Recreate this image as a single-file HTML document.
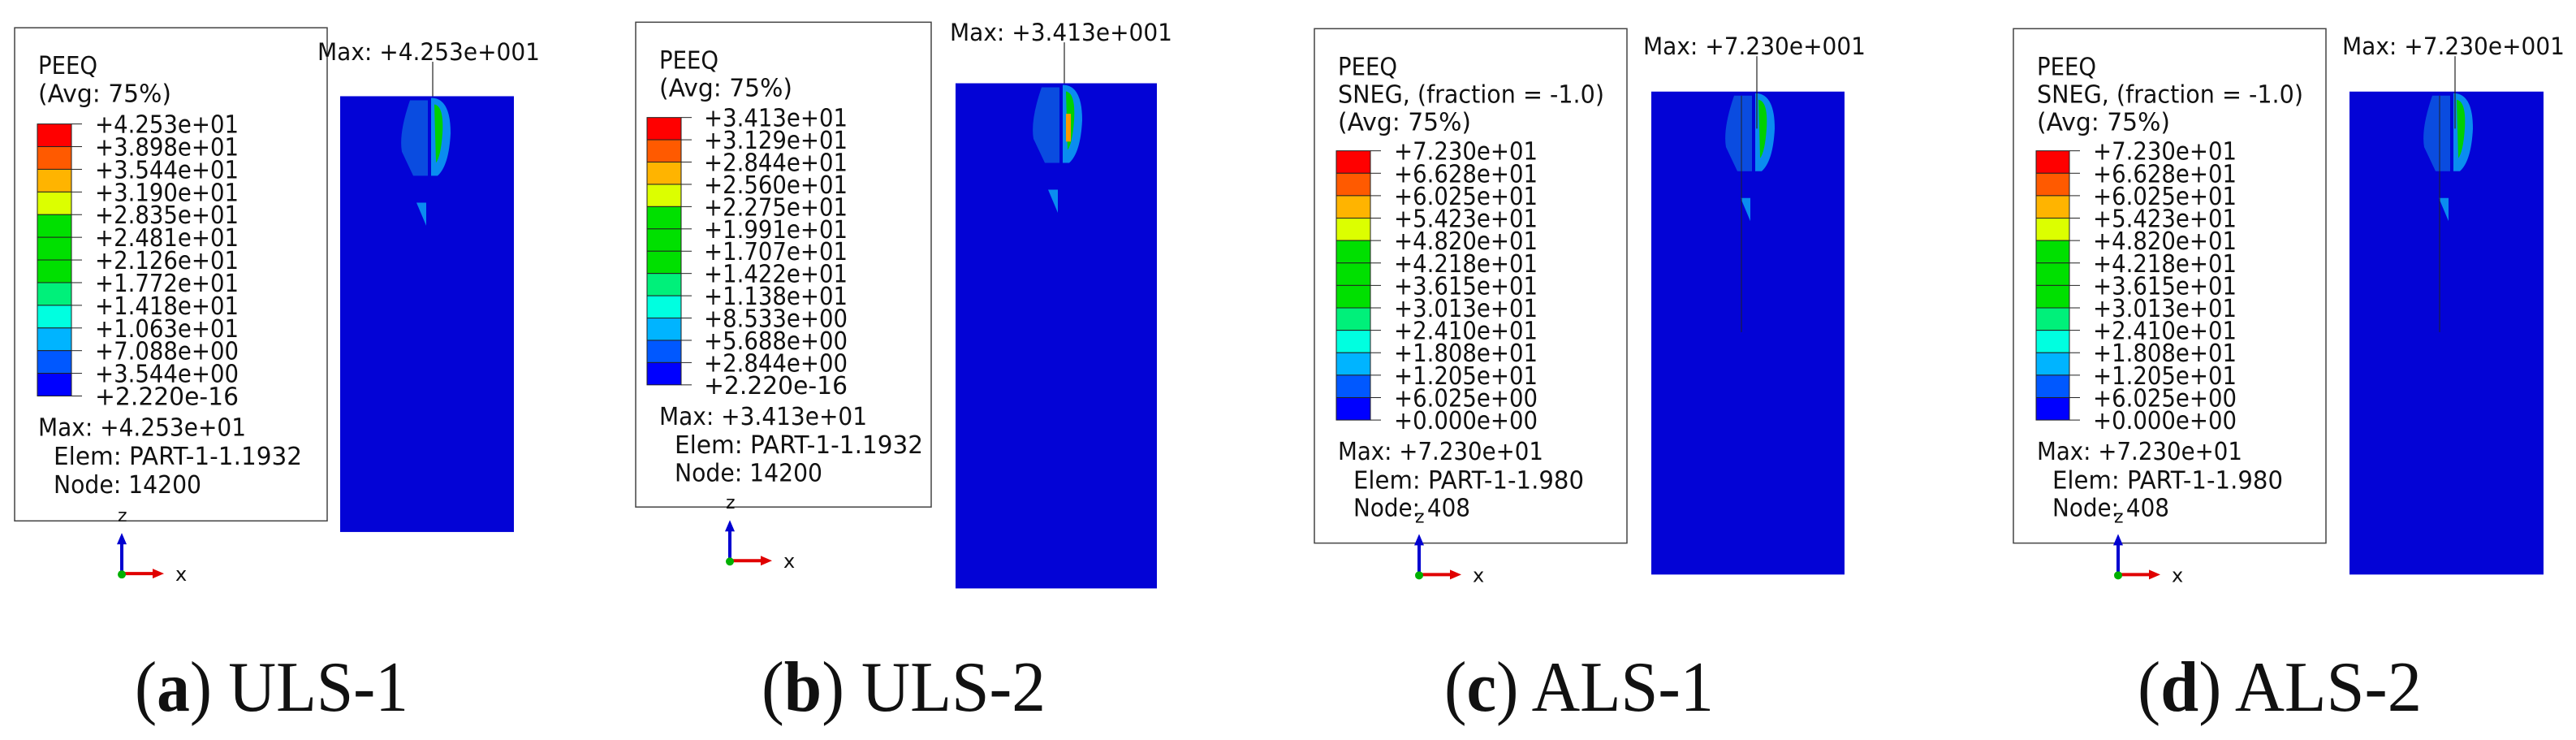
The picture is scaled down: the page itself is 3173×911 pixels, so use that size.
<!DOCTYPE html>
<html><head><meta charset="utf-8"><style>
html,body{margin:0;padding:0;background:#fff;}
svg{display:block}
.m{font-family:"DejaVu Sans","Liberation Sans",sans-serif;fill:#111;}
.cap{font-family:"Liberation Serif",serif;font-size:88px;fill:#111;}
</style></head><body>
<svg id="fig" width="3173" height="911" viewBox="0 0 3173 911" xmlns="http://www.w3.org/2000/svg"></svg>
<script>
const bandColors = ["#ff0000","#ff5a00","#ffb400","#dcff00","#00e000","#00e000","#00e000","#00f07a","#00ffe0","#00b4ff","#0058ff","#0000ff"];
const labelsA = ["+4.253e+01","+3.898e+01","+3.544e+01","+3.190e+01","+2.835e+01","+2.481e+01","+2.126e+01","+1.772e+01","+1.418e+01","+1.063e+01","+7.088e+00","+3.544e+00","+2.220e-16"];
const labelsB = ["+3.413e+01","+3.129e+01","+2.844e+01","+2.560e+01","+2.275e+01","+1.991e+01","+1.707e+01","+1.422e+01","+1.138e+01","+8.533e+00","+5.688e+00","+2.844e+00","+2.220e-16"];
const labelsC = ["+7.230e+01","+6.628e+01","+6.025e+01","+5.423e+01","+4.820e+01","+4.218e+01","+3.615e+01","+3.013e+01","+2.410e+01","+1.808e+01","+1.205e+01","+6.025e+00","+0.000e+00"];
const panels = [
 {id:"a",cap:"ULS-1",capW:337,box:[18,30,403,563],head:["PEEQ","(Avg: 75%)"],headY:80,bar:[46,134,88,428],lx:117,labels:labelsA,
  info:["Max: +4.253e+01","Elem: PART-1-1.1932","Node: 14200"],infoW:[256,306,182],infoY:[471,502,533],
  model:[419,104,633,575],maxTxt:"Max: +4.253e+001",maxX:391,maxY:65,lineX:533,triad:[150,620],capX:166,sneg:false},
 {id:"b",cap:"ULS-2",capW:350,box:[783,24,1147,548],head:["PEEQ","(Avg: 75%)"],headY:74,bar:[797,127,839,416],lx:867,labels:labelsB,
  info:["Max: +3.413e+01","Elem: PART-1-1.1932","Node: 14200"],infoW:[256,306,182],infoY:[459,490,520],
  model:[1177,90,1425,636],maxTxt:"Max: +3.413e+001",maxX:1170,maxY:44,lineX:1311,triad:[899,606],capX:938,sneg:false},
 {id:"c",cap:"ALS-1",capW:332,box:[1619,31,2004,587],head:["PEEQ","SNEG, (fraction = -1.0)","(Avg: 75%)"],headY:81,bar:[1646,163,1688,454],lx:1717,labels:labelsC,
  info:["Max: +7.230e+01","Elem: PART-1-1.980","Node: 408"],infoW:[253,284,144],infoY:[497,528,558],
  model:[2034,99,2272,621],maxTxt:"Max: +7.230e+001",maxX:2024,maxY:59,lineX:2164,triad:[1748,621],capX:1779,sneg:true},
 {id:"d",cap:"ALS-2",capW:350,box:[2480,31,2865,587],head:["PEEQ","SNEG, (fraction = -1.0)","(Avg: 75%)"],headY:81,bar:[2508,163,2549,454],lx:2578,labels:labelsC,
  info:["Max: +7.230e+01","Elem: PART-1-1.980","Node: 408"],infoW:[253,284,144],infoY:[497,528,558],
  model:[2894,99,3133,621],maxTxt:"Max: +7.230e+001",maxX:2885,maxY:59,lineX:3024,triad:[2609,621],capX:2633,sneg:true}
];
const headW={"PEEQ":73,"(Avg: 75%)":164,"SNEG, (fraction = -1.0)":328};
const NS="http://www.w3.org/2000/svg";
const svg=document.getElementById("fig");
const K=1.139;
function Y(v){return v*K;}
function el(tag,attrs,parent,txt){const e=document.createElementNS(NS,tag);for(const k in attrs)e.setAttribute(k,attrs[k]);if(txt!==undefined)e.textContent=txt;(parent||svg).appendChild(e);return e;}
panels.forEach(p=>{
  const g=el("g",{});
  
  
  const b=el("rect",{x:p.box[0],y:Y(p.box[1]),width:p.box[2]-p.box[0],height:Y(p.box[3])-Y(p.box[1]),fill:"#fff",stroke:"#444","stroke-width":1.5},g);
  
  
  p.head.forEach((h,i)=>{const t=el("text",{x:p.box[0]+29,y:Y(p.headY+i*30),"class":"m","font-size":30,textLength:headW[h],lengthAdjust:"spacingAndGlyphs"},g,h);
    
    });
  const n=bandColors.length, y0=Y(p.bar[1]), bh=(Y(p.bar[3])-y0)/n;
  bandColors.forEach((c,i)=>{const r=el("rect",{x:p.bar[0],y:y0+i*bh,width:p.bar[2]-p.bar[0],height:bh,fill:c,stroke:"#222","stroke-width":1},g);
    
    });
  p.labels.forEach((l,i)=>{const y=y0+i*bh;
    el("line",{x1:p.bar[2],x2:p.bar[2]+13,y1:y,y2:y,stroke:"#222","stroke-width":1},g);
    const t=el("text",{x:p.lx,y:y+11,"class":"m","font-size":30,textLength:177,lengthAdjust:"spacingAndGlyphs"},g,l);
    
    });
  p.info.forEach((s,i)=>{const t=el("text",{x:p.box[0]+29+(i>0?19:0),y:Y(p.infoY[i]),"class":"m","font-size":30,textLength:p.infoW[i],lengthAdjust:"spacingAndGlyphs"},g,s);
    
    });
  const [mx0,my0,mx1,my1]=p.model;
  const m=el("rect",{x:mx0,y:Y(my0),width:mx1-mx0,height:Y(my1)-Y(my0),fill:"#0303d6"},g);
  
  
  const cx=p.lineX, top=Y(my0);
  const k=K;
  el("path",{d:`M${cx-28} ${top+5} Q${cx-42} ${top+40*k} ${cx-38} ${top+60*k} L${cx-24} ${top+86*k} L${cx-6} ${top+86*k} L${cx-6} ${top+5} Z`,fill:"#0a4ce0"},g);
  el("path",{d:`M${cx-2} ${top+2} Q${cx+22} ${top+2} ${cx+22} ${top+40*k} Q${cx+20} ${top+75*k} ${cx+6} ${top+86*k} L${cx-2} ${top+86*k} Z`,fill:"#0a8cf0"},g);
  el("path",{d:`M${cx+2} ${top+10} Q${cx+14} ${top+12} ${cx+12} ${top+40*k} Q${cx+10} ${top+65*k} ${cx+4} ${top+72*k} Z`,fill:"#00d000"},g);
  if(p.id==="b") el("rect",{x:cx+2,y:top+33*k,width:6,height:30*k,fill:"#ff9800"},g);
  el("path",{d:`M${cx-20} ${top+115*k} L${cx-8} ${top+115*k} L${cx-8} ${top+140*k} Z`,fill:"#0a8cf0"},g);
  if(p.sneg) el("line",{x1:cx-19,x2:cx-19,y1:top+5,y2:top+260*k,stroke:"#222","stroke-width":1},g);
  el("line",{x1:cx,x2:cx,y1:Y(p.maxY)+2,y2:top+(p.sneg?40*k:0),stroke:"#222","stroke-width":1.2},g);
  const mt=el("text",{x:p.maxX,y:Y(p.maxY),"class":"m","font-size":29,textLength:274,lengthAdjust:"spacingAndGlyphs"},g,p.maxTxt);
  
  
  const tx=p.triad[0], ty=Y(p.triad[1]);
  el("line",{x1:tx,y1:ty,x2:tx+42,y2:ty,stroke:"#e00000","stroke-width":4},g);
  el("polygon",{points:`${tx+38},${ty-6} ${tx+52},${ty} ${tx+38},${ty+6}`,fill:"#e00000"},g);
  el("line",{x1:tx,y1:ty,x2:tx,y2:ty-40,stroke:"#0000d0","stroke-width":4},g);
  el("polygon",{points:`${tx-6},${ty-36} ${tx},${ty-50} ${tx+6},${ty-36}`,fill:"#0000d0"},g);
  el("circle",{cx:tx,cy:ty+1,r:5,fill:"#00b000"},g);
  el("text",{x:tx+66,y:ty+9,"class":"m","font-size":24},g,"x");
  el("text",{x:tx-5,y:ty-64,"class":"m","font-size":22},g,"z");
  const c=el("text",{x:p.capX,y:875,"class":"cap",textLength:p.capW,lengthAdjust:"spacingAndGlyphs"},g);
  
  
  el("tspan",{},c,"(");
  el("tspan",{"font-weight":"bold"},c,p.id);
  el("tspan",{},c,") "+p.cap);
});
</script>
</body></html>
